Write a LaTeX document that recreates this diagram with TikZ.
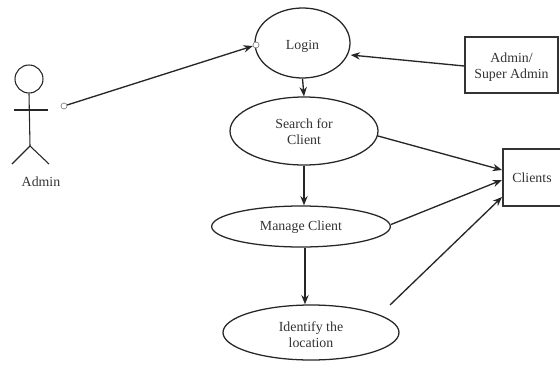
\documentclass[tikz,border=0pt]{standalone}
\usepackage{fontspec}
\setmainfont{Liberation Serif}
\usetikzlibrary{shapes.geometric,arrows.meta}
\newcommand\lowtext[2]{\raisebox{-#1}[\height][\depth]{\begin{tabular}{@{}c@{}}#2\end{tabular}}}
\tikzset{
  usecase/.style={draw=black!85,line width=0.95pt,ellipse,inner sep=0pt,align=center,text=black!80,font=\fontsize{10.4}{12}\selectfont},
  boxnode/.style={draw=black!80,line width=1.2pt,rectangle,inner sep=0pt,align=center,text=black!80,font=\fontsize{10.4}{12}\selectfont},
  conn/.style={draw=black!85,line width=1pt,-{Stealth[length=7pt,width=5.5pt]}},
  port/.style={circle,draw=black!50,fill=white,line width=0.5pt,minimum size=4.5pt,inner sep=0pt},
  limb/.style={draw=black!85,line width=0.8pt}
}
\begin{document}
\begin{tikzpicture}[x=0.75pt,y=-0.75pt]
\useasboundingbox (0,0) rectangle (560,371);
\node[usecase,minimum width=71.25pt,minimum height=52.5pt] (login) at (302.5,43) {\lowtext{2.2pt}{Login}};
\node[usecase,minimum width=111pt,minimum height=51pt] (search) at (304,131) {\lowtext{1.5pt}{Search for\\Client}};
\node[usecase,minimum width=134pt,minimum height=30.75pt] (manage) at (301,226.5) {\lowtext{0.7pt}{Manage Client}};
\node[usecase,minimum width=132pt,minimum height=41.25pt] (identify) at (311,332.5) {\lowtext{2.6pt}{Identify the\\location}};
\node[boxnode,minimum width=69.75pt,minimum height=42pt] (super) at (511.5,65) {\lowtext{1.5pt}{Admin/\\Super Admin}};
\node[boxnode,minimum width=45pt,minimum height=42.75pt] (clients) at (533,177.5) {};
\node[text=black!80,font=\fontsize{10.4}{12}\selectfont] (clientslabel) at (532,178) {Clients};
% actor
\node[circle,draw=black!85,line width=0.8pt,minimum size=21pt,inner sep=0pt] (head) at (29,79) {};
\coordinate (hip) at (30,146);
\coordinate (armL) at (14,110);
\coordinate (armR) at (48,110);
\coordinate (footL) at (12,164);
\coordinate (footR) at (49,164);
\draw[limb] (head.south) -- (hip);
\draw[limb] (armL) -- (armR);
\draw[limb] (footL) -- (hip) -- (footR);
\node[text=black!80,font=\fontsize{10.4}{12}\selectfont] (adminlabel) at (41,182) {Admin};
% ports
\node[port] (p1) at (64,106) {};
\node[port] (p2) at (256,45) {};
\coordinate (c1) at (502,170);
\coordinate (c2) at (502,180);
\coordinate (c3) at (502,197);
\coordinate (free) at (390,305);
% connectors
\draw[conn] (p1) -- (p2);
\draw[conn] (super.west |- 0,66) -- (login.east |- 0,55);
\draw[conn] (login.south) -- (search.north);
\draw[conn] (search) ++(74,5) -- (c1);
\draw[conn] (search.south) -- (manage.north -| search.south);
\draw[conn] (manage) ++(90,-2) -- (c2);
\draw[conn] (manage.south -| 305,0) -- (identify.north -| 305,0);
\draw[conn] (free) -- (c3);
\end{tikzpicture}
\end{document}
